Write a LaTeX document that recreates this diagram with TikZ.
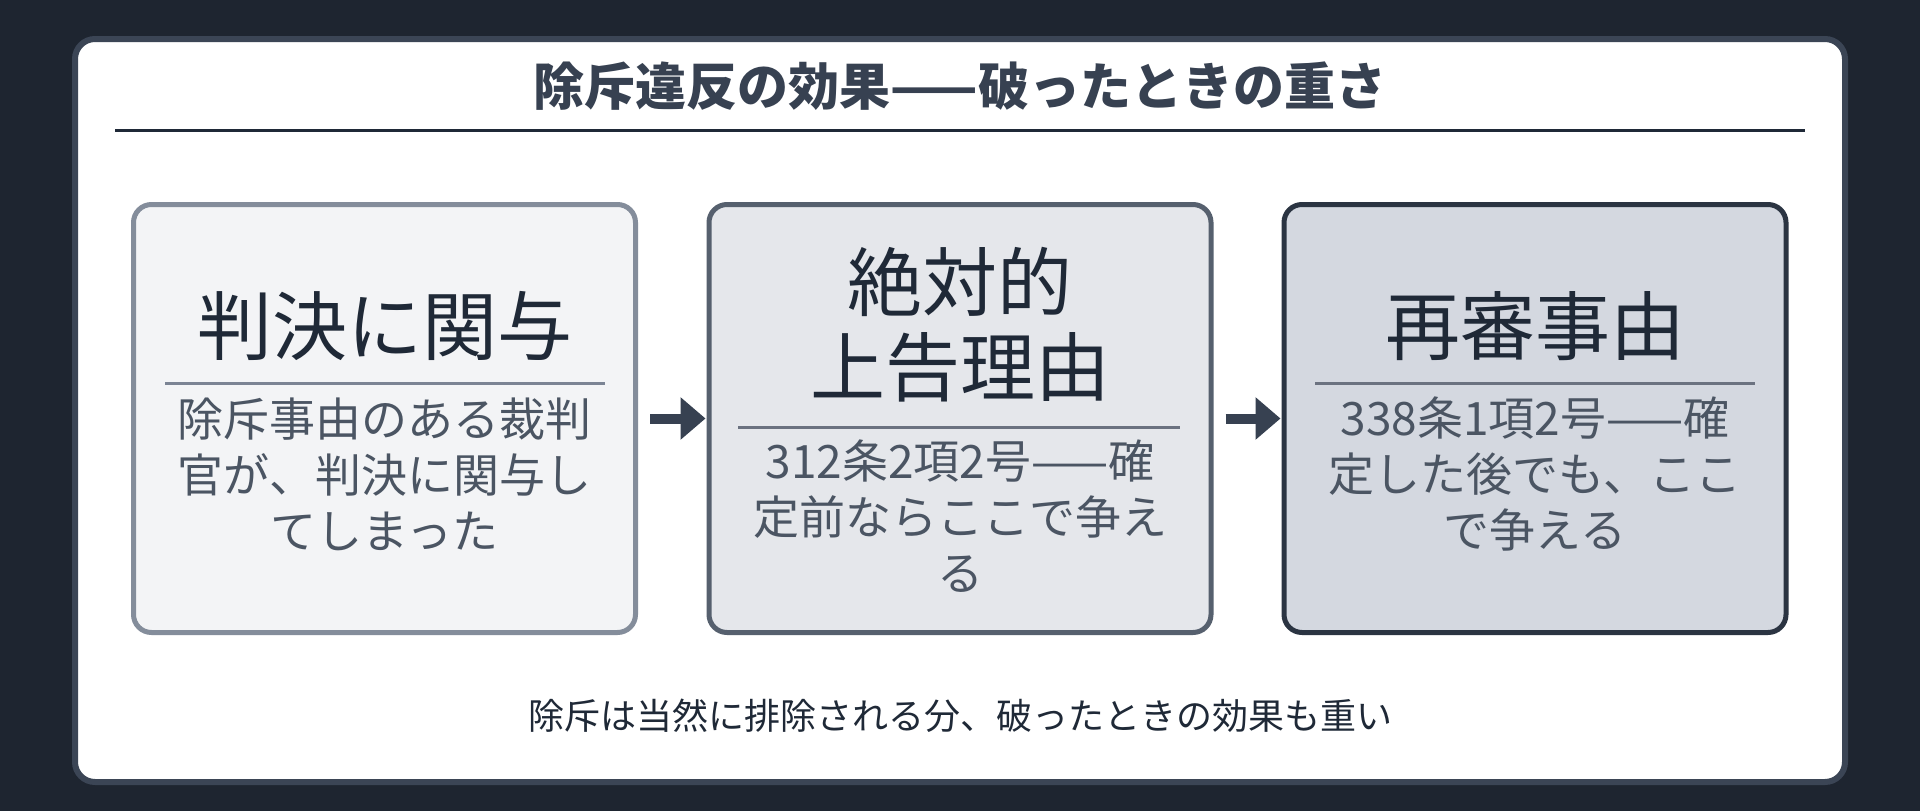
\documentclass[tikz,border=0pt]{standalone}
\usepackage{fontspec}
\setmainfont{Noto Sans CJK JP}
\usetikzlibrary{arrows.meta,positioning}
\definecolor{bgdark}{HTML}{1E2530}
\definecolor{frameline}{HTML}{3B4555}
\definecolor{titlec}{HTML}{374151}
\definecolor{ink}{HTML}{1F2937}
\definecolor{muted}{HTML}{4B5563}
\definecolor{fillA}{HTML}{F3F4F6}
\definecolor{fillB}{HTML}{E5E7EB}
\definecolor{fillC}{HTML}{D4D8E0}
\definecolor{lineA}{HTML}{848D9B}
\definecolor{lineB}{HTML}{56606E}
\definecolor{lineC}{HTML}{2B3442}
\definecolor{ruleA}{HTML}{7B8494}
\definecolor{ruleB}{HTML}{6B7280}
\tikzset{
  stage/.style={draw, line width=5pt, rounded corners=18pt,
    minimum width=502pt, minimum height=428pt},
  head/.style={font=\fontsize{75}{85}\selectfont, text=ink, align=center},
  note/.style={font=\fontsize{46}{56}\selectfont, text=muted, align=center},
  flow/.style={-{Triangle[length=25pt,width=41pt]}, line width=10pt, draw=titlec,
    shorten <=12pt, shorten >=1pt},
}

\begin{document}
\begin{tikzpicture}[x=1pt,y=-1pt]
\fill[bgdark] (0,0) rectangle (1920,811);
\useasboundingbox (0,0) rectangle (1920,811);
\draw[frameline,fill=white,line width=6pt,rounded corners=20pt] (75,39) rectangle (1845,782);
% title
\node[font=\bfseries\fontsize{51}{60}\selectfont,text=titlec] (title) at (960,86) {除斥違反の効果——破ったときの重さ};
\draw[ink,line width=3pt] (115,130) -- (1805,130);
% three stages
\node[stage,draw=lineA,fill=fillA] (b1) at (384.5,418.5) {};
\node[stage,draw=lineB,fill=fillB] (b2) at (960,418.5) {};
\node[stage,draw=lineC,fill=fillC] (b3) at (1535,418.5) {};
\node[head] (t1) at (384.5,326) {判決に関与};
\draw[ruleA,line width=3pt] (165,383) -- (605,383);
\node[note] (n1) at (384.5,474) {除斥事由のある裁判\\官が、判決に関与し\\てしまった};
\node[head] (t2) at (960,324.5) {絶対的\\上告理由};
\draw[ruleB,line width=3pt] (738,427) -- (1180,427);
\node[note] (n2) at (960,516.5) {312条2項2号——確\\定前ならここで争え\\る};
\node[head] (t3) at (1535,326) {再審事由};
\draw[ruleB,line width=3pt] (1315,383) -- (1755,383);
\node[note] (n3) at (1535,474) {338条1項2号——確\\定した後でも、ここ\\で争える};
\draw[flow] (b1.east) -- (b2.west);
\draw[flow] (b2.east) -- (b3.west);
% footnote
\node[font=\fontsize{36}{42}\selectfont,text=ink] (foot) at (960,716) {除斥は当然に排除される分、破ったときの効果も重い};
\end{tikzpicture}
\end{document}
